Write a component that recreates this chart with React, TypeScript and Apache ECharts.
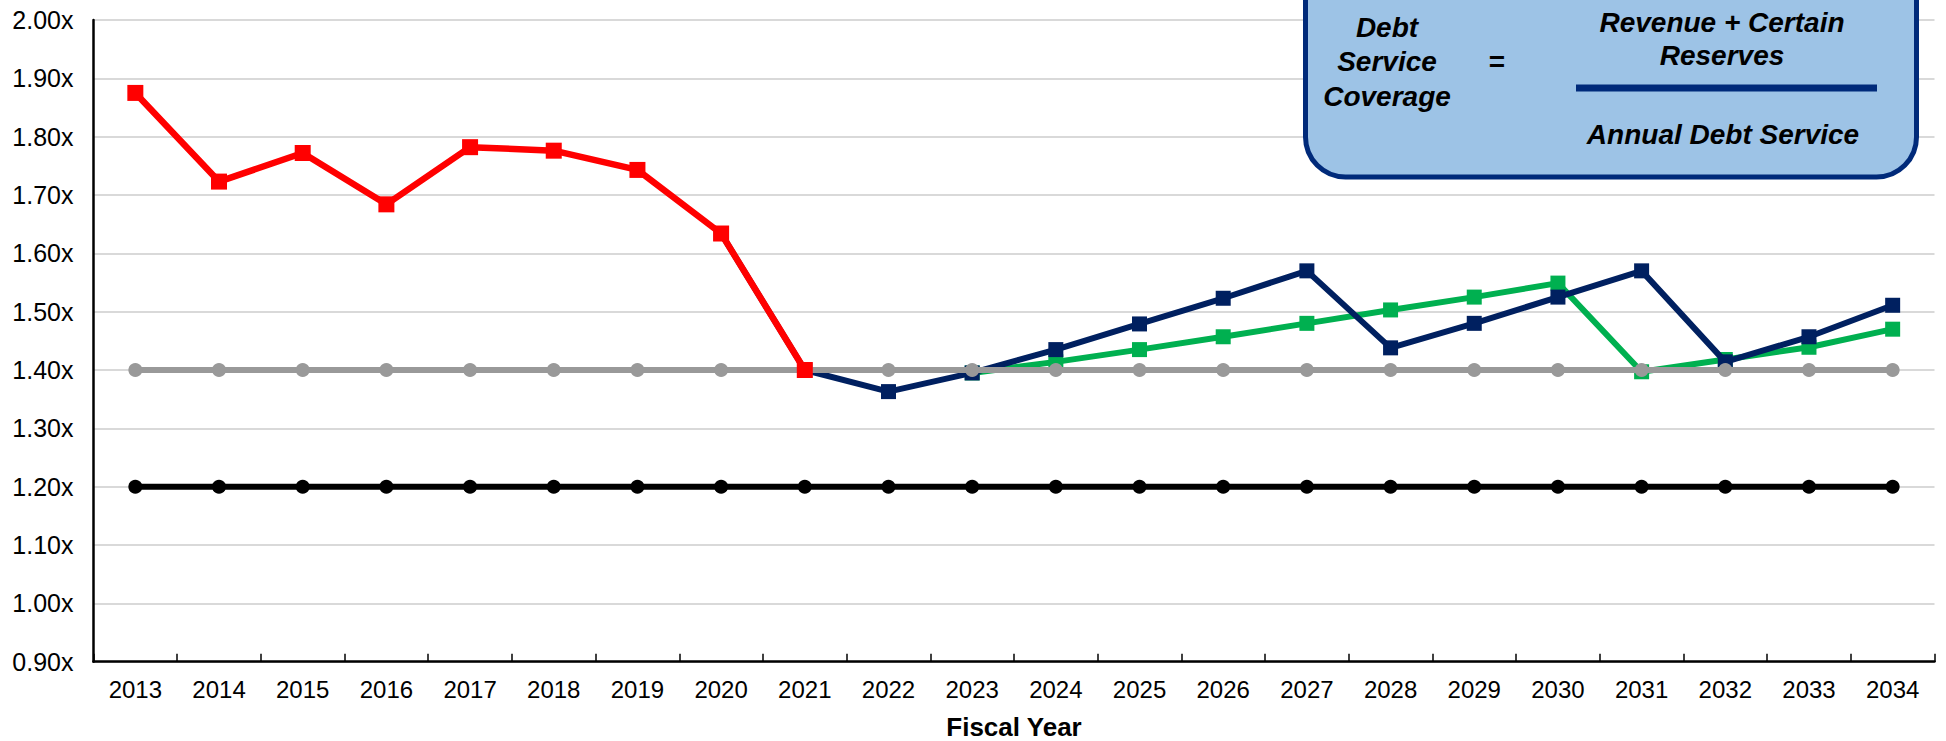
import React, { useEffect, useRef } from "react";
import * as echarts from "echarts";

const years = [
  "2013", "2014", "2015", "2016", "2017", "2018", "2019", "2020", "2021", "2022", "2023",
  "2024", "2025", "2026", "2027", "2028", "2029", "2030", "2031", "2032", "2033", "2034",
];

const historical = [
  1.875, 1.723, 1.772, 1.684, 1.782, 1.776, 1.743, 1.634, 1.40,
  null, null, null, null, null, null, null, null, null, null, null, null, null,
];

const projectionNavy = [
  null, null, null, null, null, null, null, 1.634, 1.40, 1.363, 1.395,
  1.435, 1.479, 1.523, 1.570, 1.438, 1.480, 1.525, 1.570, 1.414, 1.457, 1.511,
];

const projectionGreen = [
  null, null, null, null, null, null, null, null, null, null, 1.395,
  1.414, 1.435, 1.457, 1.480, 1.503, 1.525, 1.549, 1.397, 1.418, 1.439, 1.470,
];

const targetCoverage = [
  1.40, 1.40, 1.40, 1.40, 1.40, 1.40, 1.40, 1.40, 1.40, 1.40, 1.40,
  1.40, 1.40, 1.40, 1.40, 1.40, 1.40, 1.40, 1.40, 1.40, 1.40, 1.40,
];

const minimumCoverage = [
  1.20, 1.20, 1.20, 1.20, 1.20, 1.20, 1.20, 1.20, 1.20, 1.20, 1.20,
  1.20, 1.20, 1.20, 1.20, 1.20, 1.20, 1.20, 1.20, 1.20, 1.20, 1.20,
];

const FONT = "'Liberation Sans', Arial, sans-serif";

export default function App() {
  const ref = useRef<HTMLDivElement>(null);

  useEffect(() => {
    if (!ref.current) return;
    const chart = echarts.init(ref.current, null, { renderer: "svg" });
    const boxText = {
      fontFamily: FONT,
      fontSize: 28,
      fontWeight: "bold",
      fontStyle: "italic",
      fill: "#000",
      align: "center",
      verticalAlign: "middle",
    };
    const Z = 100;
    chart.setOption({
      animation: false,
      backgroundColor: "#ffffff",
      grid: {
        left: 93.5,
        right: 11.5,
        top: 20,
        bottom: 79.3,
        containLabel: false,
        outerBoundsMode: "none",
      },
      xAxis: {
        type: "category",
        data: years,
        boundaryGap: true,
        axisLine: { show: true, lineStyle: { color: "#000", width: 2.5 } },
        axisTick: { show: true, inside: true, length: 8, alignWithLabel: false, lineStyle: { color: "#000", width: 1.5 } },
        axisLabel: { fontFamily: FONT, fontSize: 24, color: "#000", margin: 16, lineHeight: 24, interval: 0 },
        splitLine: { show: false },
        name: "Fiscal Year",
        nameLocation: "middle",
        nameGap: 52,
        nameTextStyle: { fontFamily: FONT, fontSize: 26, fontWeight: "bold", color: "#000", lineHeight: 26 },
      },
      yAxis: {
        type: "value",
        min: 0.9,
        max: 2.0,
        interval: 0.1,
        axisLine: { show: true, lineStyle: { color: "#000", width: 2.5 } },
        axisTick: { show: false },
        axisLabel: {
          fontFamily: FONT,
          fontSize: 25,
          color: "#000",
          margin: 20,
          formatter: (v: number) => v.toFixed(2) + "x",
        },
        splitLine: { show: true, lineStyle: { color: "#D9D9D9", width: 2 } },
      },
      series: [
        {
          type: "line",
          data: projectionGreen,
          symbol: "rect",
          symbolSize: 15,
          lineStyle: { color: "#00B050", width: 6 },
          itemStyle: { color: "#00B050" },
          z: 2,
        },
        {
          type: "line",
          data: projectionNavy,
          symbol: "rect",
          symbolSize: 15,
          lineStyle: { color: "#002060", width: 6 },
          itemStyle: { color: "#002060" },
          z: 3,
        },
        {
          type: "line",
          data: targetCoverage,
          symbol: "circle",
          symbolSize: 14,
          lineStyle: { color: "#999999", width: 6 },
          itemStyle: { color: "#999999" },
          z: 4,
        },
        {
          type: "line",
          data: minimumCoverage,
          symbol: "circle",
          symbolSize: 14,
          lineStyle: { color: "#000000", width: 6 },
          itemStyle: { color: "#000000" },
          z: 5,
        },
        {
          type: "line",
          data: historical,
          symbol: "rect",
          symbolSize: 16,
          lineStyle: { color: "#FF0000", width: 6.5 },
          itemStyle: { color: "#FF0000" },
          z: 6,
        },
      ],
      graphic: [
        {
          type: "rect",
          z: Z,
          shape: { x: 1305.5, y: -40, width: 611, height: 217, r: 40 },
          style: { fill: "#9DC3E6", stroke: "#002A7A", lineWidth: 5 },
        },
        { type: "text", z: Z + 1, x: 1387, y: 27, style: { ...boxText, text: "Debt" } },
        { type: "text", z: Z + 1, x: 1387, y: 61, style: { ...boxText, text: "Service" } },
        { type: "text", z: Z + 1, x: 1387, y: 96, style: { ...boxText, text: "Coverage" } },
        { type: "text", z: Z + 1, x: 1497, y: 61, style: { ...boxText, fontStyle: "normal", text: "=" } },
        { type: "text", z: Z + 1, x: 1722, y: 22, style: { ...boxText, text: "Revenue + Certain" } },
        { type: "text", z: Z + 1, x: 1722, y: 55, style: { ...boxText, text: "Reserves" } },
        {
          type: "rect",
          z: Z + 1,
          shape: { x: 1576, y: 84.5, width: 301, height: 7 },
          style: { fill: "#002A7A" },
        },
        { type: "text", z: Z + 1, x: 1723, y: 134, style: { ...boxText, text: "Annual Debt Service" } },
      ],
    });
    return () => chart.dispose();
  }, []);

  return (
    <div
      ref={ref}
      style={{ position: "fixed", left: 0, top: 0, width: 1946, height: 741, background: "#fff" }}
    />
  );
}
